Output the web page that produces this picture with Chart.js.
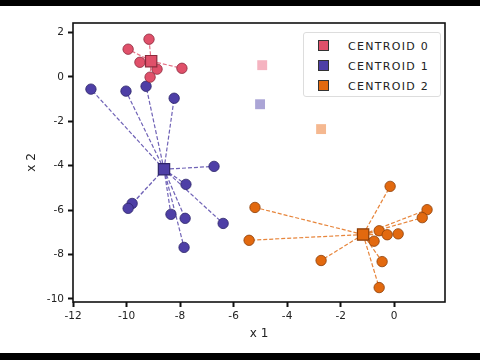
<!DOCTYPE html>
<html>
<head>
<meta charset="utf-8">
<script src="https://cdn.jsdelivr.net/npm/chart.js@4/dist/chart.umd.min.js"></script>
<style>
  html, body { margin: 0; padding: 0; background: #000; }
  #wrap { position: absolute; left: 0; top: 6px; width: 480px; height: 347px; background: #fff; }
  #legend {
    position: absolute; left: 303px; top: 26px; width: 136px; height: 63px;
    border: 1px solid #ddd; border-radius: 3px; background: #fff;
    font-family: "DejaVu Sans", sans-serif; font-size: 11px; color: #222; letter-spacing: 1.3px;
  }
  #legend .row { position: absolute; left: 14px; height: 12px; line-height: 12px; white-space: nowrap; }
  #legend .sw { display: inline-block; width: 9px; height: 9px; border: 1px solid #333; vertical-align: -1px; margin-right: 19px; }
</style>
</head>
<body>
<div id="wrap">
  <canvas id="scatter-chart" width="480" height="347"></canvas>
  <div id="legend"></div>
</div>
<script>
// cluster points
const c0X = [-9.16, -9.94, -9.50, -8.86, -7.93, -9.12];
const c0Y = [1.70, 1.25, 0.66, 0.35, 0.39, -0.01];
const c1X = [-11.33, -10.02, -9.27, -8.22, -6.73, -7.78, -9.79, -9.94, -8.34, -7.81, -7.85, -6.39];
const c1Y = [-0.55, -0.64, -0.42, -0.96, -4.03, -4.84, -5.70, -5.92, -6.19, -6.37, -7.68, -6.60];
const c2X = [-0.15, -5.20, 1.23, 1.05, -0.56, -0.26, 0.15, -0.75, -5.42, -2.73, -0.45, -0.56];
const c2Y = [-4.93, -5.88, -5.98, -6.34, -6.93, -7.11, -7.07, -7.40, -7.36, -8.27, -8.32, -9.49];

// final centroids and starting centroids
const centroidX = [-9.08, -8.60, -1.16];
const centroidY = [0.71, -4.16, -7.10];
const startX = [-4.93, -5.01, -2.73];
const startY = [0.53, -1.23, -2.35];

const labels = ["Centroid 0", "Centroid 1", "Centroid 2"];
const colors = ["#e0506a", "#4e3fa6", "#e2690f"];
const edges = ["#8a2a3c", "#2c2468", "#8a3d08"];
const fadedColors = ["#f5b3c0", "#aba5d6", "#f5b890"];

const xTicks = [-12, -10, -8, -6, -4, -2, 0];
const yTicks = [-10, -8, -6, -4, -2, 0, 2];

const clustersX = [c0X, c1X, c2X];
const clustersY = [c0Y, c1Y, c2Y];

const datasets = [];
clustersX.forEach((xs, k) => {
    // spokes from centroid to each point, broken by gaps
    const spokes = [];
    xs.forEach((x, i) => {
        spokes.push({x: centroidX[k], y: centroidY[k]});
        spokes.push({x: x, y: clustersY[k][i]});
        spokes.push({x: x, y: null});
    });
    datasets.push({
        data: spokes,
        showLine: true,
        spanGaps: false,
        borderColor: colors[k] + "d0",
        borderWidth: 1.2,
        borderDash: [4, 2],
        pointRadius: 0,
        order: 5
    });
    datasets.push({
        data: xs.map((x, i) => ({x: x, y: clustersY[k][i]})),
        backgroundColor: colors[k],
        borderColor: edges[k],
        borderWidth: 0.8,
        pointRadius: 5.2,
        order: 3
    });
});
datasets.push({
    data: startX.map((x, i) => ({x: x, y: startY[i]})),
    pointStyle: 'rect',
    pointRadius: 7,
    backgroundColor: fadedColors,
    borderColor: fadedColors,
    borderWidth: 0,
    order: 6
});
datasets.push({
    data: centroidX.map((x, i) => ({x: x, y: centroidY[i]})),
    pointStyle: 'rect',
    pointRadius: 8,
    backgroundColor: colors,
    borderColor: edges,
    borderWidth: 1.2,
    order: 1
});

// full box round the plot
const boxPlugin = {
    id: 'box',
    afterDatasetsDraw(chart) {
        const a = chart.chartArea, ctx = chart.ctx;
        ctx.save();
        ctx.strokeStyle = '#111';
        ctx.lineWidth = 1.6;
        ctx.strokeRect(a.left, a.top, a.right - a.left, a.bottom - a.top);
        ctx.restore();
    }
};

const tickFont = { family: "DejaVu Sans", size: 10.5 };

new Chart(document.getElementById("scatter-chart"), {
    type: 'scatter',
    data: { datasets: datasets },
    plugins: [boxPlugin],
    options: {
        responsive: false,
        animation: false,
        layout: { padding: { left: 0, right: 35, top: 17, bottom: 0 } },
        plugins: { legend: { display: false }, tooltip: { enabled: false } },
        scales: {
            x: {
                min: -12, max: 1.9,
                afterBuildTicks: s => { s.ticks = xTicks.map(v => ({value: v})); },
                afterFit: s => { s.height = 51; },
                grid: { drawOnChartArea: false, drawTicks: true, tickLength: 5, tickWidth: 2, tickColor: '#111' },
                border: { display: false },
                ticks: { color: '#222', font: tickFont, padding: 3, maxRotation: 0 },
                title: { display: true, text: 'x 1', color: '#222', font: { family: "DejaVu Sans", size: 12 }, padding: { top: 0, bottom: 12 } }
            },
            y: {
                min: -10.14, max: 2.43,
                afterBuildTicks: s => { s.ticks = yTicks.map(v => ({value: v})); },
                afterFit: s => { s.width = 73; },
                grid: { drawOnChartArea: false, drawTicks: true, tickLength: 5, tickWidth: 2, tickColor: '#111' },
                border: { display: false },
                ticks: { color: '#222', font: tickFont, padding: 4 },
                title: { display: true, text: 'x 2', color: '#222', font: { family: "DejaVu Sans", size: 12 }, padding: { top: 25, bottom: 0 } }
            }
        }
    }
});

// legend inside the plot, top right
const legend = document.getElementById("legend");
labels.forEach((name, k) => {
    const row = document.createElement("div");
    row.className = "row";
    row.style.top = (7 + k * 20) + "px";
    row.innerHTML = '<span class="sw" style="background:' + colors[k] + '"></span>' + name.toUpperCase();
    legend.appendChild(row);
});
</script>
</body>
</html>
